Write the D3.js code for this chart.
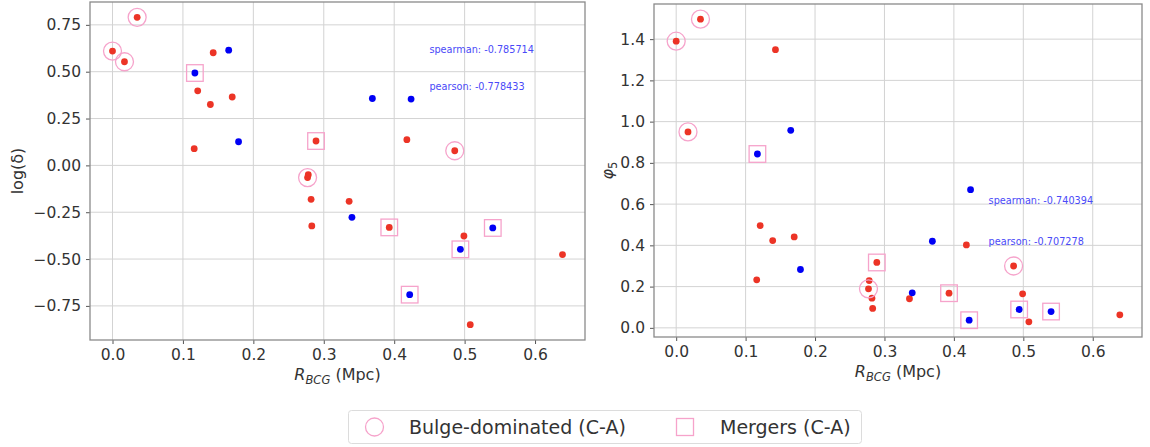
<!DOCTYPE html>
<html>
<head>
<meta charset="utf-8">
<script src="https://cdn.jsdelivr.net/npm/d3@7"></script>
<style>
  body { margin: 0; background: #fff; }
  text { font-family: "DejaVu Sans", sans-serif; }
</style>
</head>
<body>
<div id="chart"></div>
<script>
{
  // one entry per galaxy, same order in every array
  const rbcg = [0.000, 0.017, 0.035, 0.117, 0.143, 0.165, 0.121, 0.139, 0.170, 0.116,
                0.179, 0.369, 0.424, 0.289, 0.418, 0.486, 0.277, 0.278, 0.282, 0.283,
                0.336, 0.340, 0.393, 0.499, 0.494, 0.540, 0.422, 0.508, 0.639];
  const logDelta = [0.610, 0.553, 0.790, 0.493, 0.601, 0.615, 0.398, 0.325, 0.365, 0.089,
                    0.126, 0.357, 0.354, 0.130, 0.137, 0.078, -0.065, -0.050, -0.181, -0.323,
                    -0.192, -0.277, -0.331, -0.377, -0.448, -0.334, -0.690, -0.850, -0.476];
  const phi5 = [1.390, 0.950, 1.497, 0.843, 1.349, 0.958, 0.496, 0.423, 0.441, 0.233,
                0.283, 0.420, 0.670, 0.317, 0.402, 0.300, 0.189, 0.229, 0.144, 0.094,
                0.141, 0.170, 0.168, 0.165, 0.089, 0.079, 0.037, 0.029, 0.063];
  const group = ["r","r","r","b","r","b","r","r","r","r",
                 "b","b","b","r","r","r","r","r","r","r",
                 "r","b","r","r","b","b","b","r","r"];
  const bulgeIdx = [0, 1, 2, 15, 16];
  const mergerIdx = [3, 13, 22, 24, 25, 26];

  const xTicks = [0.0, 0.1, 0.2, 0.3, 0.4, 0.5, 0.6];
  const logTicks = [-0.75, -0.5, -0.25, 0.0, 0.25, 0.5, 0.75];
  const phiTicks = [0.0, 0.2, 0.4, 0.6, 0.8, 1.0, 1.2, 1.4];

  const statsLeft = ["spearman: -0.785714", "pearson: -0.778433"];
  const statsRight = ["spearman: -0.740394", "pearson: -0.707278"];
  const legendLabels = ["Bulge-dominated (C-A)", "Mergers (C-A)"];

  const width = 1150;
  const height = 447;

  const COLOR_RED = "#ec3426";
  const COLOR_BLUE = "#0000f5";
  const COLOR_PINK = "#f6a3cb";
  const COLOR_TEXT = "#333";

  const svg = d3.select("#chart").append("svg")
    .attr("width", width)
    .attr("height", height);

  // matplotlib-like 5% margins
  function padded(values) {
    const [lo, hi] = d3.extent(values);
    const m = (hi - lo) * 0.05;
    return [lo - m, hi + m];
  }

  function drawPanel(opts) {
    const x = d3.scaleLinear().domain(padded(rbcg)).range([opts.left, opts.right]);
    const y = d3.scaleLinear().domain(padded(opts.values)).range([opts.bottom, opts.top]);
    const g = svg.append("g");

    // grid
    g.selectAll("line.gx").data(xTicks).enter().append("line")
      .attr("x1", d => x(d)).attr("x2", d => x(d))
      .attr("y1", opts.top).attr("y2", opts.bottom)
      .attr("stroke", "#d3d3d3").attr("stroke-width", 1);
    g.selectAll("line.gy").data(opts.ticks).enter().append("line")
      .attr("x1", opts.left).attr("x2", opts.right)
      .attr("y1", d => y(d)).attr("y2", d => y(d))
      .attr("stroke", "#d3d3d3").attr("stroke-width", 1);

    // axes
    const xAxis = g.append("g")
      .attr("transform", `translate(0,${opts.bottom})`)
      .call(d3.axisBottom(x).tickValues(xTicks).tickFormat(d3.format(".1f")).tickSizeOuter(0).tickSize(4).tickPadding(5));
    const yAxis = g.append("g")
      .attr("transform", `translate(${opts.left},0)`)
      .call(d3.axisLeft(y).tickValues(opts.ticks).tickFormat(d3.format(opts.fmt)).tickSizeOuter(0).tickSize(4).tickPadding(5));
    [xAxis, yAxis].forEach(a => {
      a.select(".domain").remove();
      a.selectAll(".tick line").attr("stroke", "#555");
      a.selectAll(".tick text")
        .attr("fill", COLOR_TEXT)
        .style("font-size", "15.5px")
        .style("font-family", "DejaVu Sans");
    });

    g.append("rect")
      .attr("x", opts.left).attr("y", opts.top)
      .attr("width", opts.right - opts.left).attr("height", opts.bottom - opts.top)
      .attr("fill", "none").attr("stroke", "#8a8a8a").attr("stroke-width", 1.3);

    // points
    g.selectAll("circle.pt").data(rbcg).enter().append("circle")
      .attr("cx", d => x(d))
      .attr("cy", (d, i) => y(opts.values[i]))
      .attr("r", 3.4)
      .attr("fill", (d, i) => group[i] === "r" ? COLOR_RED : COLOR_BLUE);

    g.selectAll("circle.bulge").data(bulgeIdx).enter().append("circle")
      .attr("cx", i => x(rbcg[i]))
      .attr("cy", i => y(opts.values[i]))
      .attr("r", 9)
      .attr("fill", "none").attr("stroke", COLOR_PINK).attr("stroke-width", 1.3);

    g.selectAll("rect.merger").data(mergerIdx).enter().append("rect")
      .attr("x", i => x(rbcg[i]) - 8.3)
      .attr("y", i => y(opts.values[i]) - 8.3)
      .attr("width", 16.6).attr("height", 16.6)
      .attr("fill", "none").attr("stroke", COLOR_PINK).attr("stroke-width", 1.3);

    // correlation notes, placed in data coords
    g.selectAll("text.stat").data(opts.stats).enter().append("text")
      .attr("x", x(0.45))
      .attr("y", (d, i) => y(i === 0 ? 0.6 : 0.4))
      .attr("fill", "#4a4af8")
      .style("font-size", "9.7px")
      .text(d => d);

    // x label
    const xl = g.append("text")
      .attr("x", (opts.left + opts.right) / 2)
      .attr("y", opts.bottom + 40)
      .attr("text-anchor", "middle")
      .attr("fill", COLOR_TEXT)
      .style("font-size", "16px");
    xl.append("tspan").style("font-style", "italic").text("R");
    xl.append("tspan").style("font-style", "italic").style("font-size", "11.5px").attr("dy", 4).text("BCG");
    xl.append("tspan").attr("dy", -4).text(" (Mpc)");

    // y label
    const yl = g.append("text")
      .attr("transform", `translate(${opts.ylabelX},${(opts.top + opts.bottom) / 2}) rotate(-90)`)
      .attr("text-anchor", "middle")
      .attr("fill", COLOR_TEXT)
      .style("font-size", "16px");
    opts.ylabel(yl);
  }

  drawPanel({
    left: 90, right: 585, top: 2, bottom: 340,
    values: logDelta, ticks: logTicks, fmt: ".2f",
    stats: statsLeft, ylabelX: 23,
    ylabel: t => t.text("log(δ)")
  });

  drawPanel({
    left: 654, right: 1142, top: 4, bottom: 337,
    values: phi5, ticks: phiTicks, fmt: ".1f",
    stats: statsRight, ylabelX: 613,
    ylabel: t => {
      t.append("tspan").style("font-style", "italic").text("φ");
      t.append("tspan").style("font-size", "11.5px").attr("dy", 4).text("5");
    }
  });

  // legend
  const lg = svg.append("g");
  lg.append("rect")
    .attr("x", 348.5).attr("y", 410.5)
    .attr("width", 513).attr("height", 33)
    .attr("rx", 3)
    .attr("fill", "#fff").attr("stroke", "#dcdcdc").attr("stroke-width", 1);
  lg.append("circle")
    .attr("cx", 374.5).attr("cy", 427)
    .attr("r", 9)
    .attr("fill", "none").attr("stroke", COLOR_PINK).attr("stroke-width", 1.3);
  lg.append("rect")
    .attr("x", 676.5).attr("y", 418.5)
    .attr("width", 17).attr("height", 17)
    .attr("fill", "none").attr("stroke", COLOR_PINK).attr("stroke-width", 1.3);
  lg.selectAll("text.leg").data(legendLabels).enter().append("text")
    .attr("x", (d, i) => i === 0 ? 409 : 720)
    .attr("y", 433.5)
    .attr("fill", COLOR_TEXT)
    .style("font-size", "19px")
    .text(d => d);
}
</script>
</body>
</html>
